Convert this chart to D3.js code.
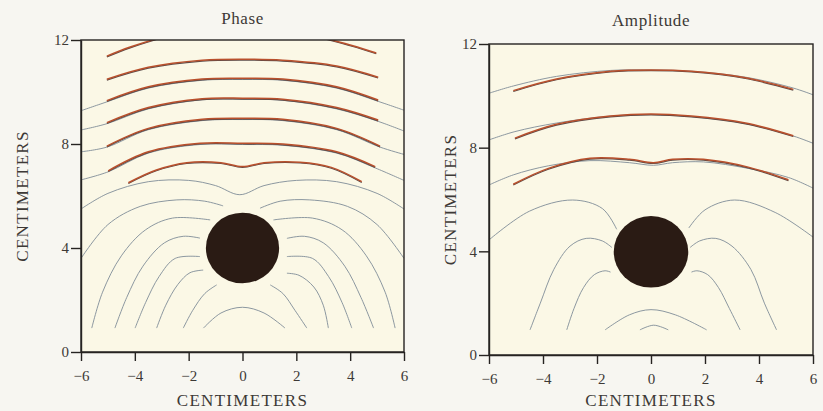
<!DOCTYPE html>
<html>
<head>
<meta charset="utf-8">
<script src="https://cdn.jsdelivr.net/npm/d3@7"></script>
<style>
  body { margin: 0; background: #f7f6f1; }
  svg text { font-family: "Liberation Serif", "DejaVu Serif", serif; fill: #3d3936; }
</style>
</head>
<body>
<div id="chart"></div>
<script>
// ---- data (centimeters) ----
var xTicks = [-6, -4, -2, 0, 2, 4, 6];
var yTicks = [0, 4, 8, 12];
var panelTitles = ["Phase", "Amplitude"];

// scatterer: [x, y, radius]
var phaseCircle = [0, 4, 1.36];
var ampCircle = [0, 3.98, 1.38];

// measured contours (red) - phase
var phaseRed = [
  [[-5.04, 11.38], [-4.2, 11.72], [-3.19, 12.05]],
  [[3.13, 12.05], [4.1, 11.78], [4.97, 11.5]],
  [[-5.04, 10.49], [-3.5, 10.95], [-1.5, 11.22], [0, 11.26], [1.5, 11.22], [3.5, 11.0], [5.04, 10.57]],
  [[-5.04, 9.67], [-3.5, 10.2], [-1.5, 10.5], [0, 10.53], [1.5, 10.5], [3.5, 10.2], [5.04, 9.69]],
  [[-5.04, 8.82], [-3.5, 9.4], [-1.5, 9.74], [0, 9.76], [1.5, 9.72], [3.5, 9.4], [5.04, 8.92]],
  [[-5.04, 7.92], [-3.5, 8.6], [-1.5, 8.95], [0, 8.99], [1.5, 8.95], [3.5, 8.6], [5.11, 7.92]],
  [[-4.99, 6.97], [-3.5, 7.7], [-1.58, 8.03], [0, 8.03], [1.5, 8.0], [3.5, 7.7], [4.93, 7.13]],
  [[-4.24, 6.51], [-3.2, 7.0], [-2.07, 7.28], [-0.8, 7.28], [0, 7.13], [0.8, 7.28], [2.14, 7.3], [3.3, 7.1], [4.43, 6.55]]
];

// computed contours (gray) - phase
var phaseGray = [
  [[-6, 9.28], [-5.04, 9.62], [-3.5, 10.15], [-1.5, 10.45], [0, 10.48], [1.5, 10.45], [3.5, 10.15], [5.04, 9.64], [6, 9.3]],
  [[-6, 8.54], [-5.04, 8.78], [-3.5, 9.35], [-1.5, 9.7], [0, 9.72], [1.5, 9.68], [3.5, 9.35], [5.04, 8.87], [6, 8.5]],
  [[-6, 7.7], [-5.04, 7.88], [-3.5, 8.55], [-1.5, 8.9], [0, 8.94], [1.5, 8.9], [3.5, 8.55], [5.11, 7.88], [6, 7.6]],
  [[-6, 6.62], [-4.99, 6.93], [-3.5, 7.65], [-1.58, 7.98], [0, 7.98], [1.5, 7.95], [3.5, 7.65], [4.93, 7.08], [6, 6.6]],
  [[-6, 5.5], [-5, 6.1], [-3.5, 6.55], [-2, 6.6], [-1, 6.4], [-0.1, 6.05], [0.8, 6.4], [2, 6.6], [3.5, 6.55], [5, 6.1], [6, 5.5]],
  // left side arcs
  [[-6, 3.6], [-5, 4.9], [-3.8, 5.6], [-2.44, 5.85], [-1.4, 5.8], [-0.72, 5.62]],
  [[-5.6, 0.92], [-5.2, 2.3], [-4.5, 3.7], [-3.6, 4.7], [-2.6, 5.15], [-1.2, 5.08]],
  [[-4.74, 0.92], [-4.3, 2.1], [-3.7, 3.3], [-2.9, 4.2], [-2.2, 4.45], [-1.58, 4.38]],
  [[-3.99, 0.92], [-3.6, 1.9], [-3.1, 2.9], [-2.5, 3.6], [-1.58, 3.67]],
  [[-3.19, 0.92], [-2.85, 1.8], [-2.4, 2.6], [-1.95, 3.05], [-1.46, 3.15]],
  [[-2.2, 0.92], [-1.85, 1.6], [-1.4, 2.25], [-0.96, 2.58]],
  // central arch
  [[-1.45, 0.92], [-0.8, 1.5], [0, 1.72], [0.8, 1.5], [1.58, 0.92]],
  // right side arcs
  [[1.03, 2.58], [1.5, 2.25], [1.95, 1.6], [2.39, 0.92]],
  [[1.65, 3.03], [2.1, 2.95], [2.65, 2.5], [3.0, 1.8], [3.19, 0.92]],
  [[1.65, 3.67], [2.6, 3.6], [3.2, 2.9], [3.7, 1.9], [4.06, 0.92]],
  [[1.65, 4.37], [2.3, 4.45], [3.0, 4.2], [3.8, 3.3], [4.4, 2.1], [4.87, 0.92]],
  [[1.15, 5.08], [2.6, 5.15], [3.7, 4.7], [4.6, 3.7], [5.3, 2.3], [5.67, 0.92]],
  [[0.65, 5.53], [1.4, 5.8], [2.5, 5.85], [3.9, 5.6], [5.0, 4.9], [6, 3.6]]
];

// measured contours (red) - amplitude
var ampRed = [
  [[-5.1, 10.2], [-3.5, 10.65], [-1.5, 10.95], [0, 11.0], [1.5, 10.95], [3.5, 10.7], [5.27, 10.25]],
  [[-5.04, 8.37], [-3.5, 8.9], [-1.5, 9.22], [0, 9.3], [1.5, 9.22], [3.5, 8.95], [5.27, 8.46]],
  [[-5.1, 6.59], [-3.8, 7.2], [-2.26, 7.59], [-0.8, 7.55], [0.09, 7.42], [0.8, 7.55], [1.94, 7.55], [3.6, 7.25], [5.09, 6.76]]
];

// computed contours (gray) - amplitude
var ampGray = [
  [[-6, 10.1], [-5.1, 10.38], [-3.5, 10.75], [-1.5, 10.98], [0, 11.0], [1.5, 10.95], [3.5, 10.72], [5.27, 10.3], [6, 10.04]],
  [[-6, 8.3], [-5.04, 8.62], [-3.5, 8.95], [-1.5, 9.22], [0, 9.28], [1.5, 9.2], [3.5, 8.93], [5.27, 8.45], [6, 8.17]],
  [[-6, 6.56], [-5.1, 6.95], [-3.8, 7.3], [-2.26, 7.5], [-0.8, 7.42], [0.09, 7.32], [0.8, 7.42], [1.94, 7.45], [3.6, 7.2], [5.09, 6.85], [6, 6.44]],
  [[-6, 4.44], [-4.5, 5.55], [-2.9, 5.98], [-1.8, 5.65], [-1.27, 4.85]],
  [[-4.48, 0.97], [-4.1, 2.0], [-3.6, 3.3], [-3.0, 4.2], [-2.4, 4.5], [-1.8, 4.4], [-1.45, 4.15]],
  [[-3.12, 0.97], [-2.85, 1.8], [-2.5, 2.6], [-2.1, 3.1], [-1.7, 3.25], [-1.5, 3.2]],
  [[-1.7, 0.97], [-0.8, 1.55], [0, 1.75], [0.9, 1.55], [2.06, 0.97]],
  [[-0.41, 0.97], [0.1, 1.15], [0.64, 0.97]],
  [[1.5, 3.2], [1.7, 3.25], [2.1, 3.1], [2.5, 2.6], [2.9, 1.8], [3.3, 0.97]],
  [[1.45, 4.15], [1.8, 4.4], [2.4, 4.5], [3.0, 4.2], [3.7, 3.3], [4.2, 2.0], [4.65, 0.97]],
  [[1.4, 4.9], [2.0, 5.6], [3.1, 5.98], [4.6, 5.5], [6, 4.55]]
];

  // ------------ //
 // Set up chart //
// ------------ //
var svgWidth = 823;
var svgHeight = 411;

var panels = [
  { title: panelTitles[0], left: 81, right: 404, top: 40, bottom: 352, circle: phaseCircle, gray: phaseGray, red: phaseRed, yLabelX: 22, titleY: 24 },
  { title: panelTitles[1], left: 489, right: 813, top: 44, bottom: 355, circle: ampCircle, gray: ampGray, red: ampRed, yLabelX: 450, titleY: 26 }
];

var svg = d3.select("#chart")
  .append("svg")
  .attr("width", svgWidth)
  .attr("height", svgHeight);

panels.forEach(function(p, i) {
  var xScale = d3.scaleLinear().domain([-6, 6]).range([p.left, p.right]);
  var yScale = d3.scaleLinear().domain([0, 12]).range([p.bottom, p.top]);

  var g = svg.append("g");

  // plot background
  g.append("rect")
    .attr("x", p.left)
    .attr("y", p.top)
    .attr("width", p.right - p.left)
    .attr("height", p.bottom - p.top)
    .attr("fill", "#fbf8e6");

  var clipId = "clip" + i;
  svg.append("clipPath").attr("id", clipId)
    .append("rect")
    .attr("x", p.left)
    .attr("y", p.top)
    .attr("width", p.right - p.left)
    .attr("height", p.bottom - p.top);

  var line = d3.line()
    .x(d => xScale(d[0]))
    .y(d => yScale(d[1]))
    .curve(d3.curveCatmullRom.alpha(0.5));

  var plot = g.append("g").attr("clip-path", `url(#${clipId})`);

  // computed contours
  plot.selectAll("path.gray")
    .data(p.gray)
    .enter()
    .append("path")
    .attr("class", "gray")
    .attr("d", line)
    .attr("fill", "none")
    .attr("stroke", "#7f8c97")
    .attr("stroke-width", 0.9);

  // measured contours, with a dark underline
  plot.selectAll("path.shadow")
    .data(p.red)
    .enter()
    .append("path")
    .attr("class", "shadow")
    .attr("d", line)
    .attr("transform", "translate(0,0.8)")
    .attr("fill", "none")
    .attr("stroke", "#5a4a48")
    .attr("stroke-width", 1.2);

  plot.selectAll("path.red")
    .data(p.red)
    .enter()
    .append("path")
    .attr("class", "red")
    .attr("d", line)
    .attr("fill", "none")
    .attr("stroke", "#b9502c")
    .attr("stroke-width", 1.5);

  // scatterer
  g.append("ellipse")
    .attr("cx", xScale(p.circle[0]))
    .attr("cy", yScale(p.circle[1]))
    .attr("rx", xScale(p.circle[2]) - xScale(0))
    .attr("ry", yScale(0) - yScale(p.circle[2]))
    .attr("fill", "#2a1b14");

  // frame
  g.append("rect")
    .attr("x", p.left)
    .attr("y", p.top)
    .attr("width", p.right - p.left)
    .attr("height", p.bottom - p.top)
    .attr("fill", "none")
    .attr("stroke", "#262321")
    .attr("stroke-width", 1.4);

  // axes
  var bottomAxis = d3.axisBottom(xScale).tickValues(xTicks).tickSize(9).tickPadding(9).tickSizeOuter(0);
  var leftAxis = d3.axisLeft(yScale).tickValues(yTicks).tickSize(10).tickPadding(2).tickSizeOuter(0);

  var xAxis = g.append("g")
    .attr("transform", `translate(0, ${p.bottom})`)
    .call(bottomAxis);
  var yAxis = g.append("g")
    .attr("transform", `translate(${p.left}, 0)`)
    .call(leftAxis);

  [xAxis, yAxis].forEach(function(ax) {
    ax.select(".domain").attr("stroke", "#262321").attr("stroke-width", 1.4);
    ax.selectAll(".tick line").attr("stroke", "#262321").attr("stroke-width", 1.4);
    ax.selectAll(".tick text")
      .attr("fill", "#3d3936")
      .style("font-family", "'Liberation Serif', serif")
      .style("font-size", "15px");
  });

  // title
  g.append("text")
    .attr("x", (p.left + p.right) / 2)
    .attr("y", p.titleY)
    .attr("text-anchor", "middle")
    .style("font-size", "17px")
    .style("letter-spacing", "0.6px")
    .text(p.title);

  // x label
  g.append("text")
    .attr("x", (p.left + p.right) / 2)
    .attr("y", 406)
    .attr("text-anchor", "middle")
    .style("font-size", "17px")
    .style("letter-spacing", "1.3px")
    .text("CENTIMETERS");

  // y label
  g.append("text")
    .attr("transform", `translate(${p.yLabelX}, ${(p.top + p.bottom) / 2}) rotate(-90)`)
    .attr("text-anchor", "middle")
    .attr("dy", "0.35em")
    .style("font-size", "17px")
    .style("letter-spacing", "1.3px")
    .text("CENTIMETERS");
});
</script>
</body>
</html>
